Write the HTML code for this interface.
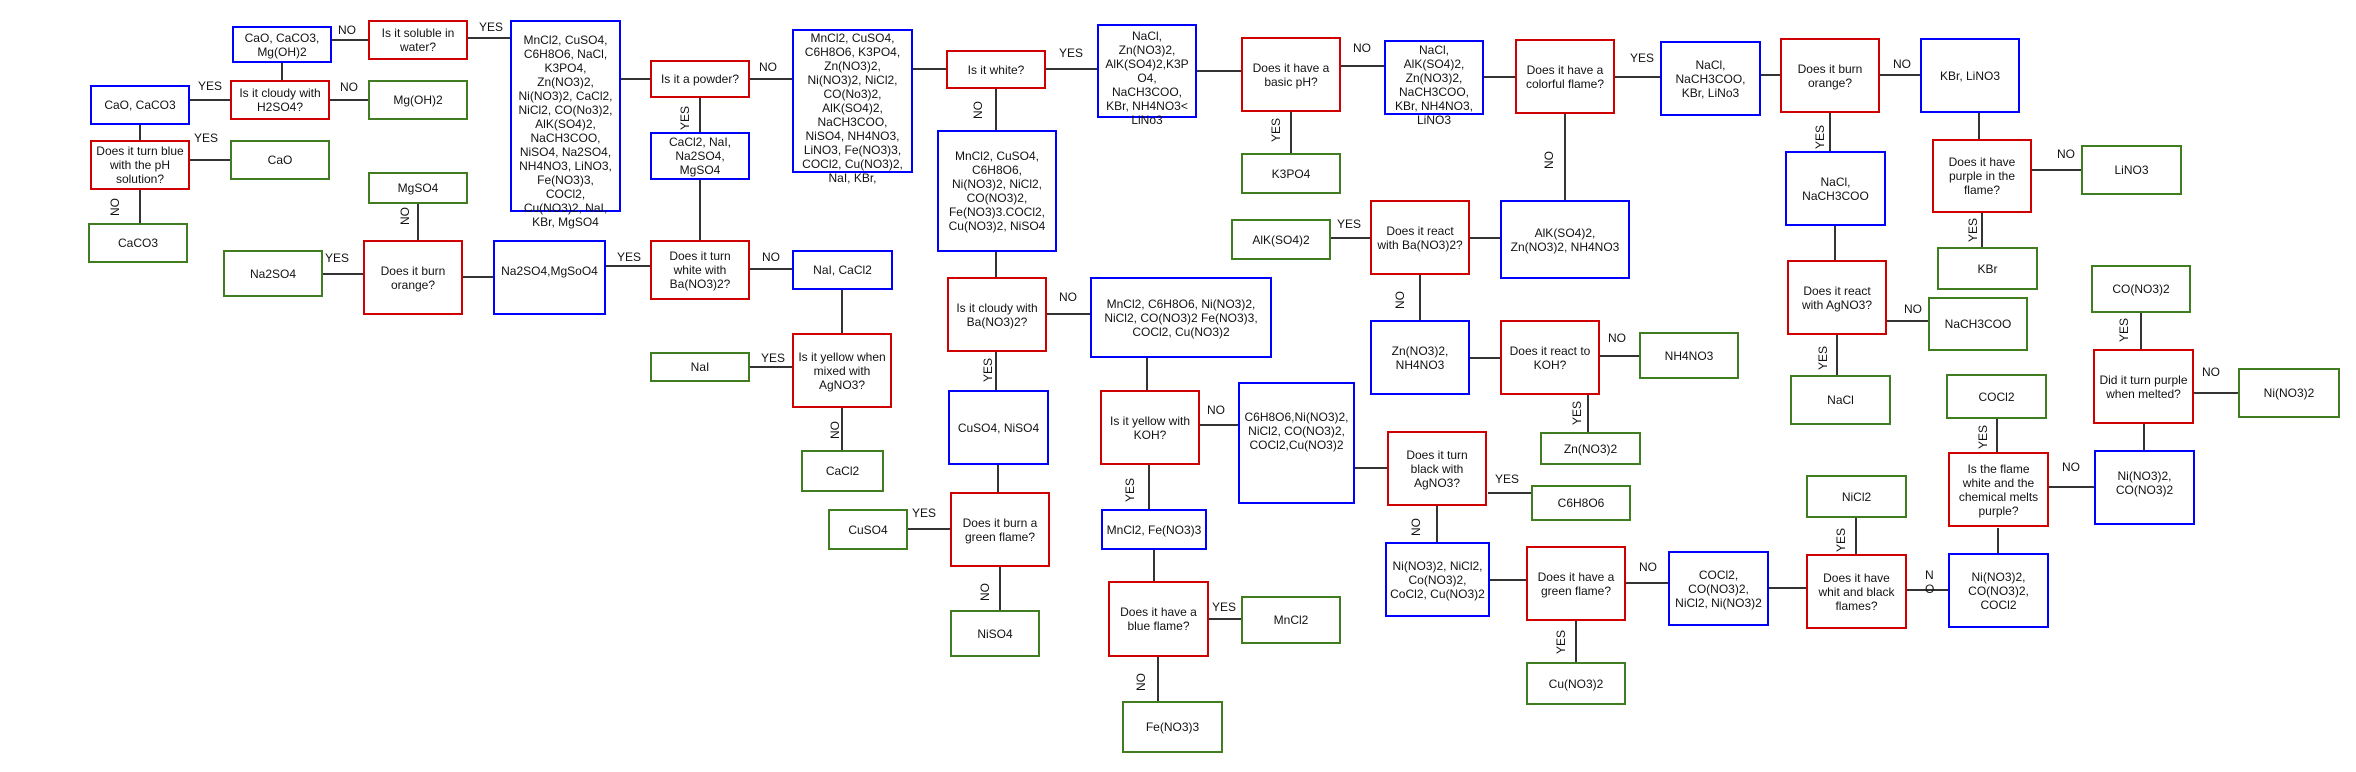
<!DOCTYPE html>
<html><head><meta charset="utf-8"><style>
body{margin:0;width:2356px;height:772px;background:#fff;position:relative;overflow:hidden;font-family:"Liberation Sans",Arial,sans-serif;}
.b{position:absolute;box-sizing:border-box;border:2px solid;display:flex;align-items:center;justify-content:center;text-align:center;font-size:12px;line-height:14px;color:#111;background:#fff;}
.t{align-items:flex-start;}
.r{border-color:#d00000}.u{border-color:#0000ff}.g{border-color:#3f7d20}
.l{position:absolute;font-size:12px;line-height:14px;color:#111;white-space:nowrap;}
.v{position:absolute;font-size:12px;line-height:14px;color:#111;white-space:nowrap;transform:translate(-50%,-50%) rotate(-90deg);}
svg{position:absolute;left:0;top:0;}
</style></head><body>
<svg width="2356" height="772" stroke="#333" stroke-width="2">
<line x1="332" y1="40" x2="368" y2="40"/><line x1="282" y1="63" x2="282" y2="80"/>
<line x1="190" y1="100" x2="230" y2="100"/><line x1="330" y1="100" x2="368" y2="100"/>
<line x1="140" y1="125" x2="140" y2="140"/><line x1="190" y1="160" x2="230" y2="160"/>
<line x1="140" y1="190" x2="140" y2="223"/><line x1="323" y1="274" x2="363" y2="274"/>
<line x1="418" y1="204" x2="418" y2="240"/><line x1="468" y1="38" x2="510" y2="38"/>
<line x1="621" y1="79" x2="650" y2="79"/><line x1="700" y1="98" x2="700" y2="132"/>
<line x1="700" y1="180" x2="700" y2="240"/><line x1="463" y1="277" x2="493" y2="277"/>
<line x1="606" y1="266" x2="650" y2="266"/><line x1="750" y1="269" x2="792" y2="269"/>
<line x1="750" y1="367" x2="792" y2="367"/><line x1="842" y1="290" x2="842" y2="333"/>
<line x1="750" y1="79" x2="792" y2="79"/><line x1="913" y1="69" x2="946" y2="69"/>
<line x1="1046" y1="69" x2="1097" y2="69"/><line x1="996" y1="89" x2="996" y2="130"/>
<line x1="996" y1="252" x2="996" y2="277"/><line x1="1047" y1="314" x2="1090" y2="314"/>
<line x1="996" y1="352" x2="996" y2="390"/><line x1="1147" y1="358" x2="1147" y2="390"/>
<line x1="842" y1="408" x2="842" y2="450"/><line x1="998" y1="465" x2="998" y2="492"/>
<line x1="908" y1="529" x2="950" y2="529"/><line x1="1000" y1="567" x2="1000" y2="610"/>
<line x1="1149" y1="465" x2="1149" y2="509"/><line x1="1154" y1="550" x2="1154" y2="581"/>
<line x1="1209" y1="619" x2="1241" y2="619"/><line x1="1158" y1="657" x2="1158" y2="701"/>
<line x1="1200" y1="425" x2="1238" y2="425"/><line x1="1355" y1="468" x2="1387" y2="468"/>
<line x1="1197" y1="71" x2="1241" y2="71"/><line x1="1341" y1="66" x2="1384" y2="66"/>
<line x1="1291" y1="112" x2="1291" y2="153"/><line x1="1484" y1="77" x2="1515" y2="77"/>
<line x1="1615" y1="77" x2="1660" y2="77"/><line x1="1761" y1="75" x2="1780" y2="75"/>
<line x1="1565" y1="114" x2="1565" y2="200"/><line x1="1470" y1="238" x2="1500" y2="238"/>
<line x1="1331" y1="238" x2="1370" y2="238"/><line x1="1420" y1="275" x2="1420" y2="320"/>
<line x1="1470" y1="358" x2="1500" y2="358"/><line x1="1600" y1="356" x2="1639" y2="356"/>
<line x1="1588" y1="395" x2="1588" y2="432"/><line x1="1488" y1="493" x2="1531" y2="493"/>
<line x1="1437" y1="506" x2="1437" y2="542"/><line x1="1490" y1="580" x2="1526" y2="580"/>
<line x1="1576" y1="621" x2="1576" y2="662"/><line x1="1626" y1="583" x2="1668" y2="583"/>
<line x1="1769" y1="588" x2="1806" y2="588"/><line x1="1880" y1="75" x2="1920" y2="75"/>
<line x1="1830" y1="113" x2="1830" y2="151"/><line x1="1835" y1="226" x2="1835" y2="260"/>
<line x1="1887" y1="321" x2="1928" y2="321"/><line x1="1837" y1="335" x2="1837" y2="375"/>
<line x1="1979" y1="113" x2="1979" y2="139"/><line x1="2032" y1="170" x2="2081" y2="170"/>
<line x1="1982" y1="213" x2="1982" y2="247"/><line x1="2141" y1="313" x2="2141" y2="349"/>
<line x1="2194" y1="393" x2="2238" y2="393"/><line x1="2144" y1="424" x2="2144" y2="450"/>
<line x1="1997" y1="419" x2="1997" y2="452"/><line x1="2049" y1="487" x2="2094" y2="487"/>
<line x1="1998" y1="528" x2="1998" y2="553"/><line x1="1856" y1="518" x2="1856" y2="554"/>
<line x1="1907" y1="590" x2="1948" y2="590"/>
</svg>

<!-- red -->
<div class="b r" style="left:368px;top:20px;width:100px;height:40px">Is it soluble in<br>water?</div>
<div class="b r" style="left:230px;top:80px;width:100px;height:40px">Is it cloudy with<br>H2SO4?</div>
<div class="b r" style="left:90px;top:140px;width:100px;height:50px">Does it turn blue<br>with the pH<br>solution?</div>
<div class="b r" style="left:363px;top:240px;width:100px;height:75px">Does it burn<br>orange?</div>
<div class="b r" style="left:650px;top:60px;width:100px;height:38px">Is it a powder?</div>
<div class="b r" style="left:650px;top:240px;width:100px;height:60px">Does it turn<br>white with<br>Ba(NO3)2?</div>
<div class="b r" style="left:792px;top:333px;width:100px;height:75px">Is it yellow when<br>mixed with<br>AgNO3?</div>
<div class="b r" style="left:946px;top:50px;width:100px;height:39px">Is it white?</div>
<div class="b r" style="left:947px;top:277px;width:100px;height:75px">Is it cloudy with<br>Ba(NO3)2?</div>
<div class="b r" style="left:950px;top:492px;width:100px;height:75px">Does it burn a<br>green flame?</div>
<div class="b r" style="left:1100px;top:390px;width:100px;height:75px">Is it yellow with<br>KOH?</div>
<div class="b r" style="left:1108px;top:581px;width:101px;height:76px">Does it have a<br>blue flame?</div>
<div class="b r" style="left:1241px;top:37px;width:100px;height:75px">Does it have a<br>basic pH?</div>
<div class="b r" style="left:1515px;top:39px;width:100px;height:75px">Does it have a<br>colorful flame?</div>
<div class="b r" style="left:1370px;top:200px;width:100px;height:75px">Does it react<br>with Ba(NO3)2?</div>
<div class="b r" style="left:1500px;top:320px;width:100px;height:75px">Does it react to<br>KOH?</div>
<div class="b r" style="left:1387px;top:431px;width:100px;height:75px">Does it turn<br>black with<br>AgNO3?</div>
<div class="b r" style="left:1526px;top:546px;width:100px;height:75px">Does it have a<br>green flame?</div>
<div class="b r" style="left:1780px;top:38px;width:100px;height:75px">Does it burn<br>orange?</div>
<div class="b r" style="left:1787px;top:260px;width:100px;height:75px">Does it react<br>with AgNO3?</div>
<div class="b r" style="left:1932px;top:139px;width:100px;height:74px">Does it have<br>purple in the<br>flame?</div>
<div class="b r" style="left:1806px;top:554px;width:101px;height:75px">Does it have<br>whit and black<br>flames?</div>
<div class="b r" style="left:1948px;top:452px;width:101px;height:75px">Is the flame<br>white and the<br>chemical melts<br>purple?</div>
<div class="b r" style="left:2093px;top:349px;width:101px;height:75px">Did it turn purple<br>when melted?</div>

<!-- blue -->
<div class="b u" style="left:232px;top:26px;width:100px;height:37px">CaO, CaCO3,<br>Mg(OH)2</div>
<div class="b u" style="left:90px;top:85px;width:100px;height:40px">CaO, CaCO3</div>
<div class="b u t" style="left:510px;top:20px;width:111px;height:192px;padding-top:11px">MnCl2, CuSO4,<br>C6H8O6, NaCl,<br>K3PO4,<br>Zn(NO3)2,<br>Ni(NO3)2, CaCl2,<br>NiCl2, CO(No3)2,<br>AlK(SO4)2,<br>NaCH3COO,<br>NiSO4, Na2SO4,<br>NH4NO3, LiNO3,<br>Fe(NO3)3,<br>COCl2,<br>Cu(NO3)2, NaI,<br>KBr, MgSO4</div>
<div class="b u" style="left:650px;top:132px;width:100px;height:48px">CaCl2, NaI,<br>Na2SO4,<br>MgSO4</div>
<div class="b u" style="left:493px;top:240px;width:113px;height:75px;padding-bottom:14px">Na2SO4,MgSoO4</div>
<div class="b u" style="left:792px;top:250px;width:101px;height:40px">NaI, CaCl2</div>
<div class="b u t" style="left:792px;top:29px;width:121px;height:144px;padding-top:0px">MnCl2, CuSO4,<br>C6H8O6, K3PO4,<br>Zn(NO3)2,<br>Ni(NO3)2, NiCl2,<br>CO(No3)2,<br>AlK(SO4)2,<br>NaCH3COO,<br>NiSO4, NH4NO3,<br>LiNO3, Fe(NO3)3,<br>COCl2, Cu(NO3)2,<br>NaI, KBr,</div>
<div class="b u t" style="left:1097px;top:24px;width:100px;height:94px;padding-top:3px">NaCl,<br>Zn(NO3)2,<br>AlK(SO4)2,K3P<br>O4,<br>NaCH3COO,<br>KBr, NH4NO3&lt;<br>LiNo3</div>
<div class="b u" style="left:937px;top:130px;width:120px;height:122px">MnCl2, CuSO4,<br>C6H8O6,<br>Ni(NO3)2, NiCl2,<br>CO(NO3)2,<br>Fe(NO3)3.COCl2,<br>Cu(NO3)2, NiSO4</div>
<div class="b u" style="left:1090px;top:277px;width:182px;height:81px">MnCl2, C6H8O6, Ni(NO3)2,<br>NiCl2, CO(NO3)2 Fe(NO3)3,<br>COCl2, Cu(NO3)2</div>
<div class="b u" style="left:948px;top:390px;width:101px;height:75px">CuSO4, NiSO4</div>
<div class="b u" style="left:1101px;top:509px;width:106px;height:41px">MnCl2, Fe(NO3)3</div>
<div class="b u" style="left:1238px;top:382px;width:117px;height:122px;padding-bottom:25px">C6H8O6,Ni(NO3)2,<br>NiCl2, CO(NO3)2,<br>COCl2,Cu(NO3)2</div>
<div class="b u t" style="left:1384px;top:40px;width:100px;height:75px;padding-top:1px">NaCl,<br>AlK(SO4)2,<br>Zn(NO3)2,<br>NaCH3COO,<br>KBr, NH4NO3,<br>LiNO3</div>
<div class="b u" style="left:1660px;top:41px;width:101px;height:75px">NaCl,<br>NaCH3COO,<br>KBr, LiNo3</div>
<div class="b u" style="left:1500px;top:200px;width:130px;height:79px">AlK(SO4)2,<br>Zn(NO3)2, NH4NO3</div>
<div class="b u" style="left:1370px;top:320px;width:100px;height:75px">Zn(NO3)2,<br>NH4NO3</div>
<div class="b u" style="left:1920px;top:38px;width:100px;height:75px">KBr, LiNO3</div>
<div class="b u" style="left:1785px;top:151px;width:101px;height:75px">NaCl,<br>NaCH3COO</div>
<div class="b u" style="left:1385px;top:542px;width:105px;height:75px">Ni(NO3)2, NiCl2,<br>Co(NO3)2,<br>CoCl2, Cu(NO3)2</div>
<div class="b u" style="left:1668px;top:551px;width:101px;height:75px">COCl2,<br>CO(NO3)2,<br>NiCl2, Ni(NO3)2</div>
<div class="b u" style="left:1948px;top:553px;width:101px;height:75px">Ni(NO3)2,<br>CO(NO3)2,<br>COCl2</div>
<div class="b u" style="left:2094px;top:450px;width:101px;height:75px;padding-bottom:10px">Ni(NO3)2,<br>CO(NO3)2</div>

<!-- green -->
<div class="b g" style="left:368px;top:80px;width:100px;height:40px">Mg(OH)2</div>
<div class="b g" style="left:230px;top:140px;width:100px;height:40px">CaO</div>
<div class="b g" style="left:88px;top:223px;width:100px;height:40px">CaCO3</div>
<div class="b g" style="left:223px;top:250px;width:100px;height:47px">Na2SO4</div>
<div class="b g" style="left:368px;top:172px;width:100px;height:32px">MgSO4</div>
<div class="b g" style="left:650px;top:352px;width:100px;height:30px">NaI</div>
<div class="b g" style="left:801px;top:450px;width:83px;height:42px">CaCl2</div>
<div class="b g" style="left:828px;top:509px;width:80px;height:41px">CuSO4</div>
<div class="b g" style="left:950px;top:610px;width:90px;height:47px">NiSO4</div>
<div class="b g" style="left:1241px;top:596px;width:100px;height:48px">MnCl2</div>
<div class="b g" style="left:1122px;top:701px;width:101px;height:52px">Fe(NO3)3</div>
<div class="b g" style="left:1241px;top:153px;width:100px;height:41px">K3PO4</div>
<div class="b g" style="left:1231px;top:219px;width:100px;height:41px">AlK(SO4)2</div>
<div class="b g" style="left:1639px;top:332px;width:100px;height:47px">NH4NO3</div>
<div class="b g" style="left:1540px;top:432px;width:101px;height:33px">Zn(NO3)2</div>
<div class="b g" style="left:1531px;top:485px;width:100px;height:36px">C6H8O6</div>
<div class="b g" style="left:1526px;top:662px;width:100px;height:43px">Cu(NO3)2</div>
<div class="b g" style="left:1928px;top:297px;width:100px;height:54px">NaCH3COO</div>
<div class="b g" style="left:1790px;top:375px;width:101px;height:50px">NaCl</div>
<div class="b g" style="left:2081px;top:145px;width:101px;height:50px">LiNO3</div>
<div class="b g" style="left:1937px;top:247px;width:101px;height:43px">KBr</div>
<div class="b g" style="left:2091px;top:265px;width:100px;height:48px">CO(NO3)2</div>
<div class="b g" style="left:2238px;top:368px;width:102px;height:50px">Ni(NO3)2</div>
<div class="b g" style="left:1946px;top:374px;width:101px;height:45px">COCl2</div>
<div class="b g" style="left:1806px;top:475px;width:101px;height:43px">NiCl2</div>

<!-- horizontal labels -->
<div class="l" style="left:338px;top:23px">NO</div>
<div class="l" style="left:198px;top:79px">YES</div>
<div class="l" style="left:340px;top:80px">NO</div>
<div class="l" style="left:194px;top:131px">YES</div>
<div class="l" style="left:325px;top:251px">YES</div>
<div class="l" style="left:479px;top:20px">YES</div>
<div class="l" style="left:617px;top:250px">YES</div>
<div class="l" style="left:762px;top:250px">NO</div>
<div class="l" style="left:761px;top:351px">YES</div>
<div class="l" style="left:759px;top:60px">NO</div>
<div class="l" style="left:1059px;top:46px">YES</div>
<div class="l" style="left:1059px;top:290px">NO</div>
<div class="l" style="left:912px;top:506px">YES</div>
<div class="l" style="left:1212px;top:600px">YES</div>
<div class="l" style="left:1207px;top:403px">NO</div>
<div class="l" style="left:1353px;top:41px">NO</div>
<div class="l" style="left:1630px;top:51px">YES</div>
<div class="l" style="left:1337px;top:217px">YES</div>
<div class="l" style="left:1608px;top:331px">NO</div>
<div class="l" style="left:1495px;top:472px">YES</div>
<div class="l" style="left:1639px;top:560px">NO</div>
<div class="l" style="left:1893px;top:57px">NO</div>
<div class="l" style="left:1904px;top:302px">NO</div>
<div class="l" style="left:2057px;top:147px">NO</div>
<div class="l" style="left:2202px;top:365px">NO</div>
<div class="l" style="left:2062px;top:460px">NO</div>
<div class="l" style="left:1925px;top:568px">N</div>
<div class="l" style="left:1925px;top:582px">O</div>

<!-- rotated labels -->
<div class="v" style="left:115px;top:207px">NO</div>
<div class="v" style="left:405px;top:216px">NO</div>
<div class="v" style="left:685px;top:118px">YES</div>
<div class="v" style="left:978px;top:110px">NO</div>
<div class="v" style="left:988px;top:370px">YES</div>
<div class="v" style="left:835px;top:430px">NO</div>
<div class="v" style="left:985px;top:592px">NO</div>
<div class="v" style="left:1130px;top:490px">YES</div>
<div class="v" style="left:1141px;top:682px">NO</div>
<div class="v" style="left:1276px;top:130px">YES</div>
<div class="v" style="left:1549px;top:160px">NO</div>
<div class="v" style="left:1400px;top:300px">NO</div>
<div class="v" style="left:1577px;top:413px">YES</div>
<div class="v" style="left:1416px;top:527px">NO</div>
<div class="v" style="left:1561px;top:642px">YES</div>
<div class="v" style="left:1820px;top:137px">YES</div>
<div class="v" style="left:1823px;top:358px">YES</div>
<div class="v" style="left:1973px;top:230px">YES</div>
<div class="v" style="left:2124px;top:330px">YES</div>
<div class="v" style="left:1983px;top:437px">YES</div>
<div class="v" style="left:1841px;top:540px">YES</div>
</body></html>
